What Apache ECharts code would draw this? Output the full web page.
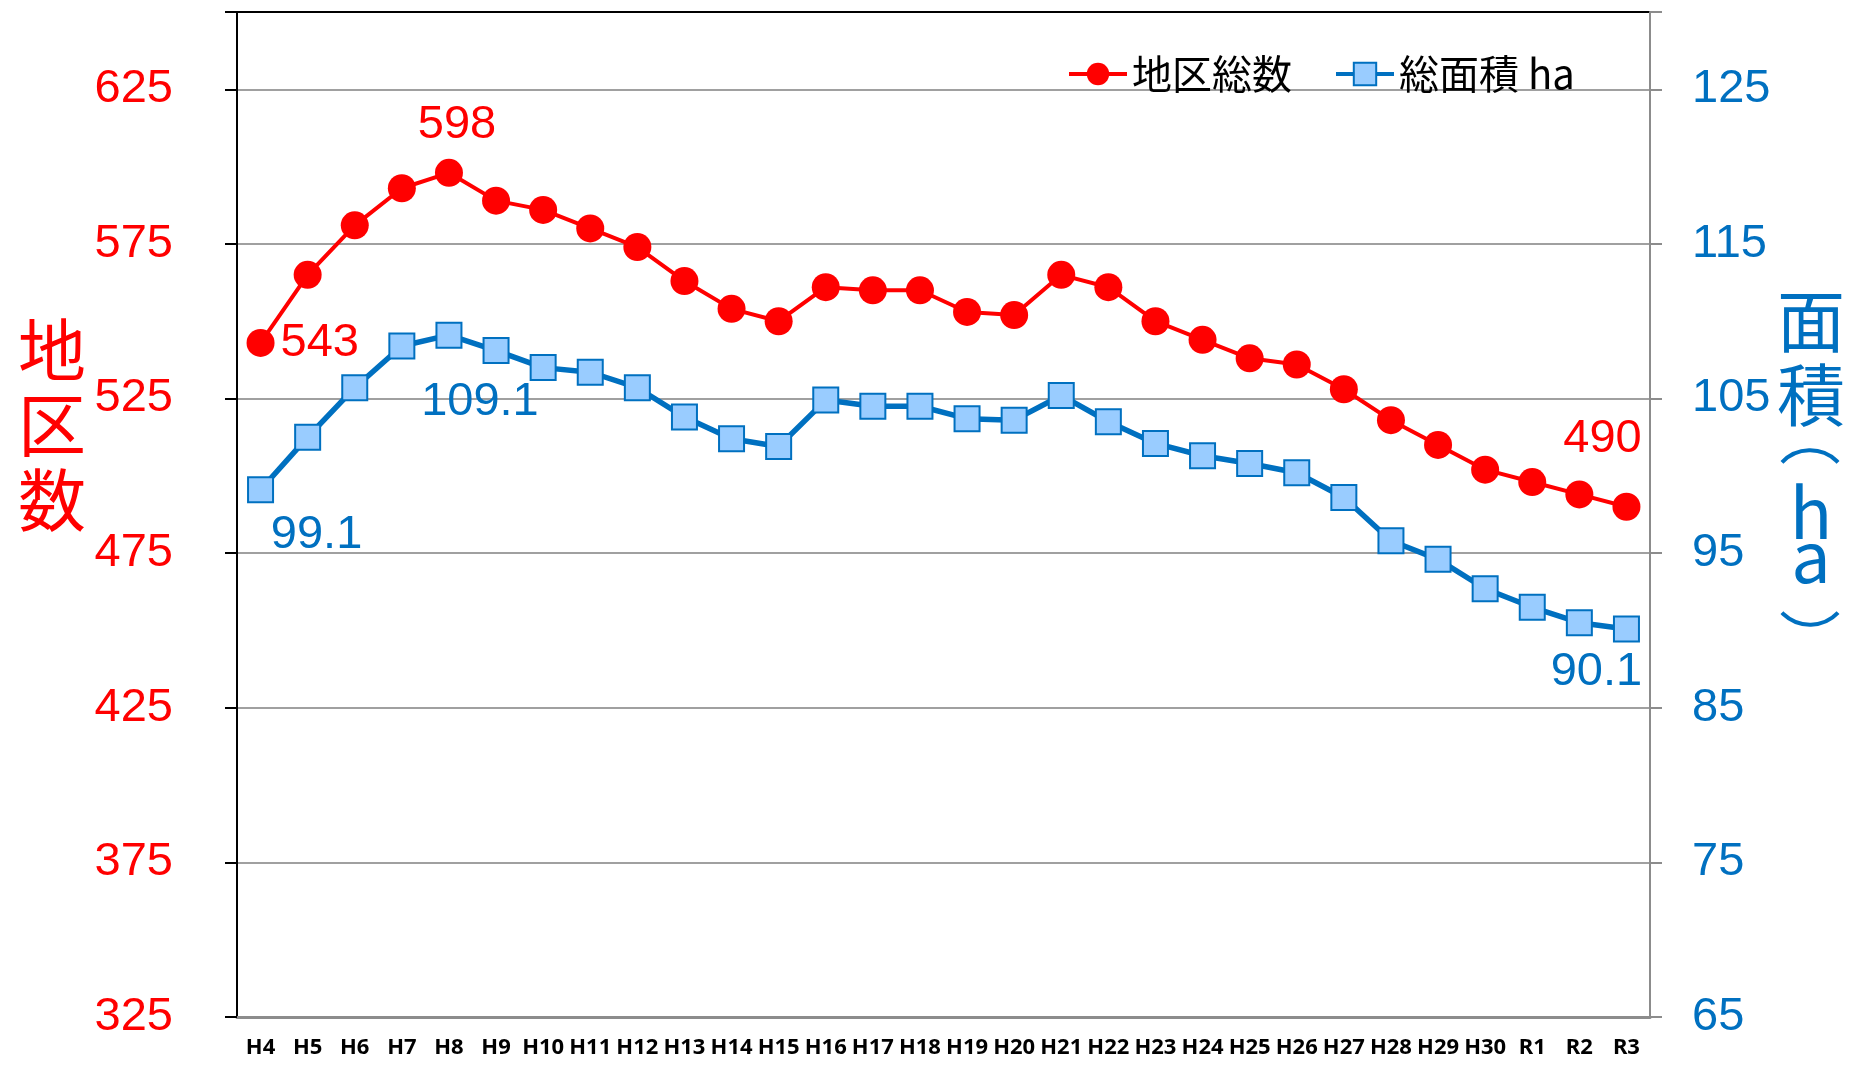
<!DOCTYPE html>
<html>
<head>
<meta charset="utf-8">
<script src="https://cdn.jsdelivr.net/npm/echarts@6/dist/echarts.min.js"></script>
<style>
  html, body { margin: 0; padding: 0; background: #fff; }
  #chart { width: 1855px; height: 1066px; }
</style>
</head>
<body>
<div id="chart"></div>
<script>
// fiscal years (Heisei 4 .. Reiwa 3)
const years = ['H4', 'H5', 'H6', 'H7', 'H8', 'H9', 'H10', 'H11', 'H12', 'H13',
  'H14', 'H15', 'H16', 'H17', 'H18', 'H19', 'H20', 'H21', 'H22', 'H23',
  'H24', 'H25', 'H26', 'H27', 'H28', 'H29', 'H30', 'R1', 'R2', 'R3'];

// 地区総数 (left axis)
const districtCount = [543, 565, 581, 593, 598, 589, 586, 580, 574, 563,
  554, 550, 561, 560, 560, 553, 552, 565, 561, 550,
  544, 538, 536, 528, 518, 510, 502, 498, 494, 490];

// 総面積 ha (right axis)
const totalArea = [99.1, 102.5, 105.7, 108.4, 109.1, 108.1, 107.0, 106.7, 105.7, 103.8,
  102.4, 101.9, 104.9, 104.5, 104.5, 103.7, 103.6, 105.2, 103.5, 102.1,
  101.3, 100.8, 100.2, 98.6, 95.8, 94.6, 92.7, 91.5, 90.5, 90.1];

// axis ranges [min, max, step]
const countAxis = [325, 650, 50];
const areaAxis = [65, 130, 10];

const RED = '#FF0000';
const BLUE = '#0070C0';
const NUM_FONT = '"Liberation Sans", Arial, sans-serif';
const JP_FONT = '"Noto Sans CJK JP", sans-serif';

// which points get a value label, and where it sits
const countLabelPos = {
  0: { position: 'right', distance: 6, offset: [0, 0] },
  4: { position: 'top', distance: 10, offset: [8, 0] },
  29: { position: 'top', distance: 30, offset: [-24, 0] }
};
const areaLabelPos = {
  0: { position: 'bottom', distance: 8, offset: [56, 0] },
  4: { position: 'bottom', distance: 30, offset: [31, 0] },
  29: { position: 'bottom', distance: 6, offset: [-30, 0] }
};

const chart = echarts.init(document.getElementById('chart'), null, { renderer: 'canvas' });

const titleChar = (text, x, y, size) => ({
  type: 'text', x: x, y: y,
  style: {
    text: text, fill: BLUE, fontSize: size || 68, fontFamily: JP_FONT,
    align: 'center', verticalAlign: 'middle'
  }
});

// vertical-writing brackets of the right axis title, drawn as shallow arcs
const bracketArc = (cx, cy, up) => ({
  type: 'arc',
  shape: {
    cx: cx, cy: cy, r: 38.7,
    startAngle: (up ? -Math.PI / 2 : Math.PI / 2) - 0.81,
    endAngle: (up ? -Math.PI / 2 : Math.PI / 2) + 0.81,
    clockwise: true
  },
  style: { stroke: BLUE, lineWidth: 4, fill: null }
});

const option = {
  animation: false,
  backgroundColor: '#fff',
  grid: {
    left: 237, right: 205, top: 12, bottom: 49,
    show: true, borderColor: '#000', borderWidth: 2
  },
  legend: {
    left: 1062, top: 49,
    itemWidth: 58, itemHeight: 28, itemGap: 42,
    lineStyle: { width: 4 },
    textStyle: { fontSize: 40, fontFamily: JP_FONT, color: '#000' },
    data: ['地区総数', '総面積 ha']
  },
  xAxis: {
    type: 'category',
    data: years,
    boundaryGap: true,
    axisLine: { lineStyle: { color: '#8C8C8C', width: 3 } },
    axisTick: { interval: 9, length: 7, lineStyle: { color: '#8C8C8C', width: 2 } },
    axisLabel: {
      interval: 0, color: '#000', fontWeight: 'bold', fontSize: 22,
      fontFamily: '"Noto Sans", "Liberation Sans", sans-serif', margin: 20
    },
    splitLine: { show: false }
  },
  yAxis: [
    {
      type: 'value', position: 'left',
      min: countAxis[0], max: countAxis[1], interval: countAxis[2],
      axisLine: { show: true, lineStyle: { color: '#000', width: 2 } },
      axisTick: { show: true, length: 12, lineStyle: { color: '#000', width: 2 } },
      axisLabel: {
        color: RED, fontSize: 47, fontFamily: NUM_FONT, margin: 64,
        formatter: v => (v === countAxis[1] ? '' : v)
      },
      splitLine: {
        show: true, showMaxLine: false, showMinLine: false,
        lineStyle: { color: '#A0A0A0', width: 2 }
      }
    },
    {
      type: 'value', position: 'right',
      min: areaAxis[0], max: areaAxis[1], interval: areaAxis[2],
      axisLine: { show: true, lineStyle: { color: '#8C8C8C', width: 2 } },
      axisTick: { show: true, length: 12, lineStyle: { color: '#8C8C8C', width: 2 } },
      axisLabel: {
        color: BLUE, fontSize: 47, fontFamily: NUM_FONT, margin: 42,
        formatter: v => (v === areaAxis[1] ? '' : v)
      },
      splitLine: { show: false }
    }
  ],
  graphic: [
    {
      type: 'text', x: 52, y: 425,
      style: {
        text: '地\n区\n数', fill: RED, fontSize: 68, fontFamily: JP_FONT,
        align: 'center', verticalAlign: 'middle', lineHeight: 75
      }
    },
    titleChar('面', 1811, 321),
    titleChar('積', 1811, 395),
    bracketArc(1810, 489, true),
    titleChar('h', 1811, 512, 70),
    titleChar('a', 1811, 556, 70),
    bracketArc(1810, 586, false)
  ],
  series: [
    {
      name: '地区総数',
      type: 'line',
      yAxisIndex: 0,
      z: 3,
      symbol: 'circle',
      symbolSize: 28,
      itemStyle: { color: RED },
      lineStyle: { color: RED, width: 4 },
      label: { show: false, color: RED, fontSize: 47, fontFamily: NUM_FONT },
      data: districtCount.map((v, i) => countLabelPos[i]
        ? { value: v, label: Object.assign({ show: true }, countLabelPos[i]) }
        : v)
    },
    {
      name: '総面積 ha',
      type: 'line',
      yAxisIndex: 1,
      z: 2,
      symbol: 'rect',
      symbolSize: 25,
      itemStyle: { color: '#99CCFF', borderColor: BLUE, borderWidth: 2 },
      lineStyle: { color: BLUE, width: 5.5 },
      label: {
        show: false, color: BLUE, fontSize: 47, fontFamily: NUM_FONT,
        formatter: p => Number(p.value).toFixed(1)
      },
      data: totalArea.map((v, i) => areaLabelPos[i]
        ? { value: v, label: Object.assign({ show: true }, areaLabelPos[i]) }
        : v)
    }
  ]
};

chart.setOption(option);
</script>
</body>
</html>
